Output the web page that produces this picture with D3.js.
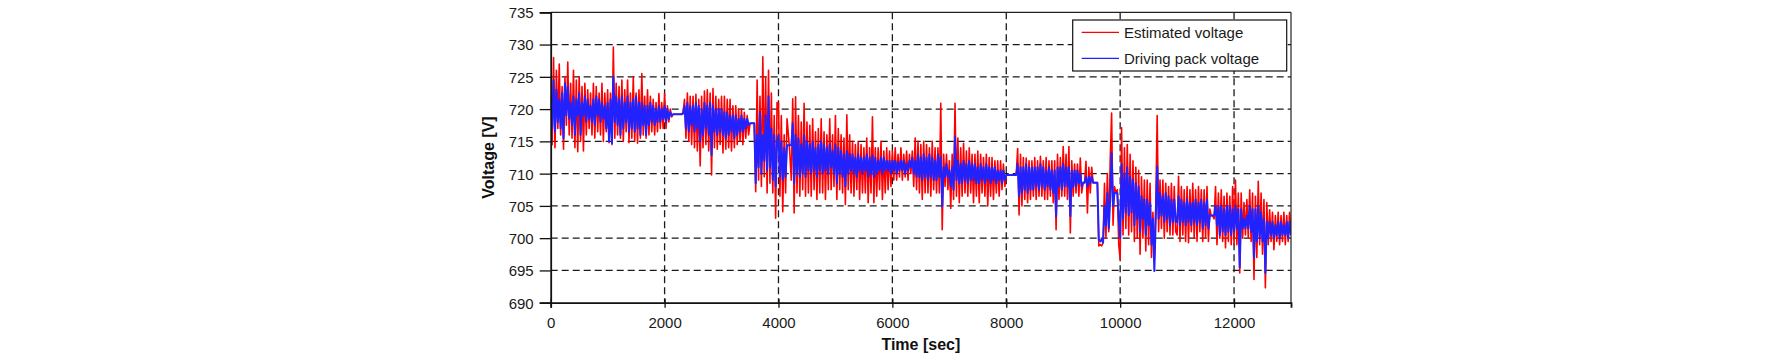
<!DOCTYPE html>
<html>
<head>
<meta charset="utf-8">
<script src="https://cdn.jsdelivr.net/npm/d3@7"></script>
<style>
  html, body { margin: 0; padding: 0; background: #fff; }
  svg { display: block; font-family: "Liberation Sans", Arial, sans-serif; }
</style>
</head>
<body>
<svg id="chart" width="1772" height="356"></svg>
<script>
// ---------- data ----------
const timeStart = 0, timeEnd = 13000, timeStep = 25; // sampling grid [sec]

const estimatedVoltage = [
  // 0 - 975
  725,714.5,728,714,726,717,727,716,723.5,713.8,725,717.5,727.3,716,724,715.5,726,714,724.5,713.4,
  725,715,723.5,713.5,724,716,723,717,722.5,716,724,715.5,723.5,716.5,722.5,716,724,715,722.5,716.5,
  // 1000 - 1975
  723,714.8,722.5,714.5,729.6,715.5,724,716,723.5,715.5,724.5,715,723,716.5,724.5,714.8,722.5,715.5,725,715,
  722.5,714.7,723,715.5,725.5,716,722,715.5,723,716,722,716.5,721.5,716,721,716.5,722.4,717,721,717,
  // 2000 - 2975
  722.4,717,720.5,718,720,718.8,719.2,719.2,719.2,719.2,719.2,719.2,719.2,719.5,721.5,715.5,722.5,715,722,714.5,
  722,714,722.3,713.5,721.5,711.2,722,714,722.8,714.5,723,713.5,722.5,709.8,723.2,714,722,713.8,721.5,714.5,
  // 3000 - 3975
  722,713.2,722,713.8,721.5,714,721.5,713.5,720.5,714,720.5,714.5,720,715,720,714.5,719.5,715.5,719,716,
  717.8,717.8,717.8,717.8,707.2,724.5,709,722,708,728.1,709.5,725,707,726,708.5,722.5,707,719,703.1,721,
  // 4000 - 4975
  721,706.5,719,704.1,716,707,718.5,716,713,709,721.6,703.9,721.9,707,719,706.5,718,707.5,720.9,706.5,
  718,707,717.5,706.5,718.5,707.5,716.5,706,717,707,718.5,707,716.5,706,716,707.5,718.5,707.5,716,708,
  // 5000 - 5975
  719,706,717,707.5,716,707,715.5,705.2,719.1,707.5,716,707,715,706.5,714.5,707.5,715,706,714.5,707,
  714,707,715.5,705.5,714,707,718.8,705.5,714,706.5,714,707.5,715,706,713.5,707,714,707.5,713.5,708,
  // 6000 - 6975
  713.5,709,714,709,713,709.5,714,709,713,709.5,713.5,709,713,710,713.5,708,715.5,707.5,715,707,
  714.5,706,715,707,714.5,707,714,706.5,715,707.5,714,707,714,707,720.9,701.3,713,708,713,707.5,
  // 7000 - 7975
  712,704.6,713,706,720.9,706.5,715.5,705.5,714,706.5,714.7,707,713.5,706.5,714,707,713,705.5,713,706.5,
  713.5,705.5,713,707,712.5,706.5,713,705,712.5,706.5,712.5,706,712,707,712,706.5,712,707.5,711.5,708,
  // 8000 - 8975
  709.8,709.8,709.8,709.8,709.8,709.8,709.8,709.9,713.9,703.6,713,705,712.5,706,712.4,705.5,712,706,712,706.5,
  712.5,706,712,706.5,712.7,706.5,712,706,712.5,706,712,706.5,712,705.5,712,701.3,713,706,712.5,706.5,
  // 9000 - 9975
  714.2,706.5,713,706,714.2,700.8,712,706.5,711.5,707,711.5,706.5,712.4,707,708.6,708.6,711.9,703.9,711,707,
  711,708.6,708.6,708.6,708.6,698.8,699,698.8,699.3,708.5,700,710,701,712,719.4,702,708,707,707.5,699,
  // 10000 - 10975
  696.7,717.1,700.5,714,701.5,714.5,700.5,713,701,712,699.5,711,700,710.5,697.5,709.5,700,709,698,709,
  699,708.5,697,704,696.5,705,719,701,709,701.5,709,700,708.5,701,708,700.5,708.5,700.5,708,701,
  // 11000 - 11975
  700.5,709.6,699.5,708,700.5,707.5,699.5,708,699.3,707.5,701,708.5,700,707.5,699.5,708,701,707.5,699.5,707.5,
  700,708,699.5,704.5,703.5,703.5,703,708,699,707,700,707.5,699.5,706.5,698.5,707,699.5,706.5,699,708,
  // 12000 - 13000
  699,709,699,707,694.6,707,700,705.5,700.5,706,700,707.5,699.5,707,693.6,706.5,697,708.8,699,707,
  697.5,706,692.3,705.5,699,704.4,699.5,704,698.2,703.5,699.5,704,699,703.5,699.5,704,699,703.5,699.5,704,
  701
];

const drivingPackVoltage = [
  // 0 - 975
  722,717,724.5,716.5,723,718,721.5,717,722.5,715.5,724,719,723.5,718.5,721,717.5,722,716,721.5,719,
  722.5,716,721,719,722,718,721.5,718.5,720.5,718,721.5,717.5,722,719,721.5,718,721,718.5,720.5,717,
  // 1000 - 1975
  721,715,721.5,714.7,725,718,722,717.5,721.5,716,722,717,721,718,722,716.5,721,717,721.5,716.5,
  722,717,721,716,721,717.5,720.5,716,720.5,717.5,721,718,720.5,717.5,720,718,720.5,718,720,718.5,
  // 2000 - 2975
  720.5,718,720,718.5,719.5,719,719.2,719.2,719.2,719.2,719.2,719.2,719.2,719.3,720.5,717,721,716.5,720.5,717.5,
  720.5,716.5,721,717,720.5,715,720,716,721,717,720.5,716,721,712.9,720.5,716.5,720,716,720,716.5,
  // 3000 - 3975
  720,716,719.5,715.5,719.5,716,719,716.5,719,715.5,719,716,718.5,716.5,719,716.5,718.5,717,718.5,717.5,
  717.8,717.8,717.8,717.8,708.5,716,711,719.5,710,716,712,719,710.5,722,711,717,709,716,708,715,
  // 4000 - 4975
  716,709.5,715,709,714,709.5,714.4,714.4,714.4,714.4,717.8,708.5,716,710,715.5,709.5,714.5,710,716,709.5,
  715,710.5,714.5,710,715,710.5,714,709.5,714.5,710.5,715,710,714.5,710.5,714,710,714.5,711,713.5,710,
  // 5000 - 5975
  714.5,708.5,714,710,713.5,709.5,713,708,713.5,710,713,710.5,713,710,712.5,709.5,713,710.5,712.5,710,
  712.5,710.5,713,709.5,712.5,710,712.8,709.5,712.5,710,712,710.5,712.5,710,712.5,710.5,712,710.5,712,710,
  // 6000 - 6975
  712,710.5,712,710,711.8,710.5,712,710.5,712,710,711.5,710.5,712,711,712.5,710,712,709.5,713,709.5,
  712.5,709,713,709.5,712.5,709,713,709.5,712.5,709,712,709,713,709.5,712.5,704.9,711,709.5,711.5,709.5,
  // 7000 - 7975
  710.5,708,711,707.5,715.7,709,712,708.5,711.5,708.5,712,709,711.5,708.5,712,709,711.5,709,711.5,708.5,
  711,708.5,711.5,709,711,708.5,711.5,709,711,708.5,711,709,711,708.5,710.5,709,710.5,708.5,710.5,709,
  // 8000 - 8975
  709.8,709.8,709.8,709.8,709.8,709.8,709.8,709.8,711.5,706.5,711,707,711,707.5,711.5,707,711,707.5,711,707.5,
  711,708,711,707.5,711.5,708,711,707.5,710.5,708,711,707.5,710.5,707,710.5,703.4,711,708,711,707.5,
  // 9000 - 9975
  711.5,708,711,708,711,703.4,710.5,708,710.5,708,710.5,708.5,710,708,708.6,708.6,709.5,708,709.5,708.5,
  709.5,708.6,708.6,708.6,708.6,699.8,699.5,699.8,699.3,705,702,707,701.5,706,713.2,705,707,707,707,703,
  // 10000 - 10975
  700,711.5,703,710,704,711,703.5,709.5,704,709,702,708.5,703,708,701,706.5,703,706,700.5,706,
  702,705.5,699,703,694.9,703,711.1,703,707,703.5,706.5,702.5,707,703,706.5,702,706,702.5,706,702.5,
  // 11000 - 11975
  702.5,706.5,702,706,702.5,705.5,702,706,702.5,705.5,702,705.5,702.5,706,702,705.5,702.5,706,701.5,705.5,
  702,706,701.5,703.5,703.5,703.5,703.5,705,702,705,700.5,705,701,704.5,700.5,705,701,705,700.5,704.5,
  // 12000 - 13000
  701,705,701.5,704.5,695.5,704.5,701.5,703,701.5,703.5,701.5,705,701,704.5,697,704.5,699.5,705,700,704,
  699.5,703,694.6,702.5,700,702.5,700.5,702.5,700,702,700.5,702.5,700,702.5,700.5,702,700.5,702.5,700,702.5,
  700.5
];

const xTicks = [0, 2000, 4000, 6000, 8000, 10000, 12000];
const yTicks = [690, 695, 700, 705, 710, 715, 720, 725, 730, 735];
const xDomain = [0, 13000];
const yDomain = [690, 735];
const seriesNames = ["Estimated voltage", "Driving pack voltage"];
const xTitle = "Time [sec]";
const yTitle = "Voltage [V]";

// ---------- layout ----------
const svg = d3.select("#chart");
const plot = { left: 550.7, right: 1291, top: 12.3, bottom: 302.7 };
const colors = { est: "#ff0000", drv: "#2222ff" };

const x = d3.scaleLinear().domain(xDomain).range([plot.left, plot.right]);
const y = d3.scaleLinear().domain(yDomain).range([plot.bottom, plot.top]);

const times = d3.range(timeStart, timeEnd + 1, timeStep);
const estData = times.map((t, i) => [t, estimatedVoltage[i]]);
const drvData = times.map((t, i) => [t, drivingPackVoltage[i]]);

svg.append("rect").attr("width", 1772).attr("height", 356).attr("fill", "#fff");

// gridlines
const grid = svg.append("g").attr("stroke", "#1a1a1a").attr("stroke-width", 1.3)
  .attr("stroke-dasharray", "7,4");
grid.selectAll("line.h").data(yTicks.filter(v => v > yDomain[0] && v < yDomain[1]))
  .join("line").attr("class", "h")
  .attr("x1", plot.left).attr("x2", plot.right)
  .attr("y1", d => y(d)).attr("y2", d => y(d));
grid.selectAll("line.v").data(xTicks.filter(v => v > xDomain[0] && v < xDomain[1]))
  .join("line").attr("class", "v")
  .attr("y1", plot.top).attr("y2", plot.bottom)
  .attr("x1", d => x(d)).attr("x2", d => x(d));

// series
const line = d3.line().x(d => x(d[0])).y(d => y(d[1]));
svg.append("clipPath").attr("id", "clip").append("rect")
  .attr("x", plot.left).attr("y", plot.top)
  .attr("width", plot.right - plot.left).attr("height", plot.bottom - plot.top);
const series = svg.append("g").attr("clip-path", "url(#clip)");
series.append("path").datum(estData).attr("d", line)
  .attr("fill", "none").attr("stroke", colors.est).attr("stroke-width", 1.6)
  .attr("stroke-linejoin", "round");
series.append("path").datum(drvData).attr("d", line)
  .attr("fill", "none").attr("stroke", colors.drv).attr("stroke-width", 2)
  .attr("stroke-linejoin", "round");

// frame (top/right)
svg.append("line").attr("x1", plot.left).attr("x2", plot.right)
  .attr("y1", plot.top).attr("y2", plot.top).attr("stroke", "#222").attr("stroke-width", 1.2);
svg.append("line").attr("x1", plot.right).attr("x2", plot.right)
  .attr("y1", plot.top).attr("y2", plot.bottom).attr("stroke", "#222").attr("stroke-width", 1.2);

// axes
const yAxis = d3.axisLeft(y).tickValues(yTicks).tickSize(11).tickPadding(6).tickFormat(d3.format("d"));
const xAxis = d3.axisBottom(x).tickValues(xTicks).tickSize(5).tickPadding(10).tickFormat(d3.format("d"));

const gy = svg.append("g").attr("transform", `translate(${plot.left},0)`).call(yAxis);
const gx = svg.append("g").attr("transform", `translate(0,${plot.bottom})`).call(xAxis);
[gx, gy].forEach(g => {
  g.select(".domain").attr("stroke", "#111").attr("stroke-width", 1.8);
  g.selectAll(".tick line").attr("stroke", "#111").attr("stroke-width", 1.3);
  g.selectAll(".tick text").attr("fill", "#1a1a1a")
    .style("font-family", "'Liberation Sans', Arial, sans-serif").style("font-size", "15px");
});
gy.selectAll(".tick text").attr("dy", "0.36em");
gx.selectAll(".tick line").attr("y1", -4).attr("y2", 5);

// axis titles
svg.append("text").attr("x", (plot.left + plot.right) / 2).attr("y", 350)
  .attr("text-anchor", "middle").attr("font-weight", "bold").attr("font-size", 16)
  .attr("fill", "#111").text(xTitle);
svg.append("text")
  .attr("transform", `translate(494,${(plot.top + plot.bottom) / 2}) rotate(-90)`)
  .attr("text-anchor", "middle").attr("font-weight", "bold").attr("font-size", 16)
  .attr("fill", "#111").text(yTitle);

// legend
const lg = svg.append("g");
lg.append("rect").attr("x", 1072.7).attr("y", 20).attr("width", 214).attr("height", 51)
  .attr("fill", "#fff").attr("stroke", "#111").attr("stroke-width", 1.2);
const legendItems = [
  { name: seriesNames[0], color: colors.est, ly: 32.3, ty: 37.5 },
  { name: seriesNames[1], color: colors.drv, ly: 58.3, ty: 63.5 }
];
legendItems.forEach(it => {
  lg.append("line").attr("x1", 1081.7).attr("x2", 1119).attr("y1", it.ly).attr("y2", it.ly)
    .attr("stroke", it.color).attr("stroke-width", 1.3);
  lg.append("text").attr("x", 1124).attr("y", it.ty).attr("font-size", 15)
    .attr("fill", "#1a1a1a").text(it.name);
});
</script>
</body>
</html>
